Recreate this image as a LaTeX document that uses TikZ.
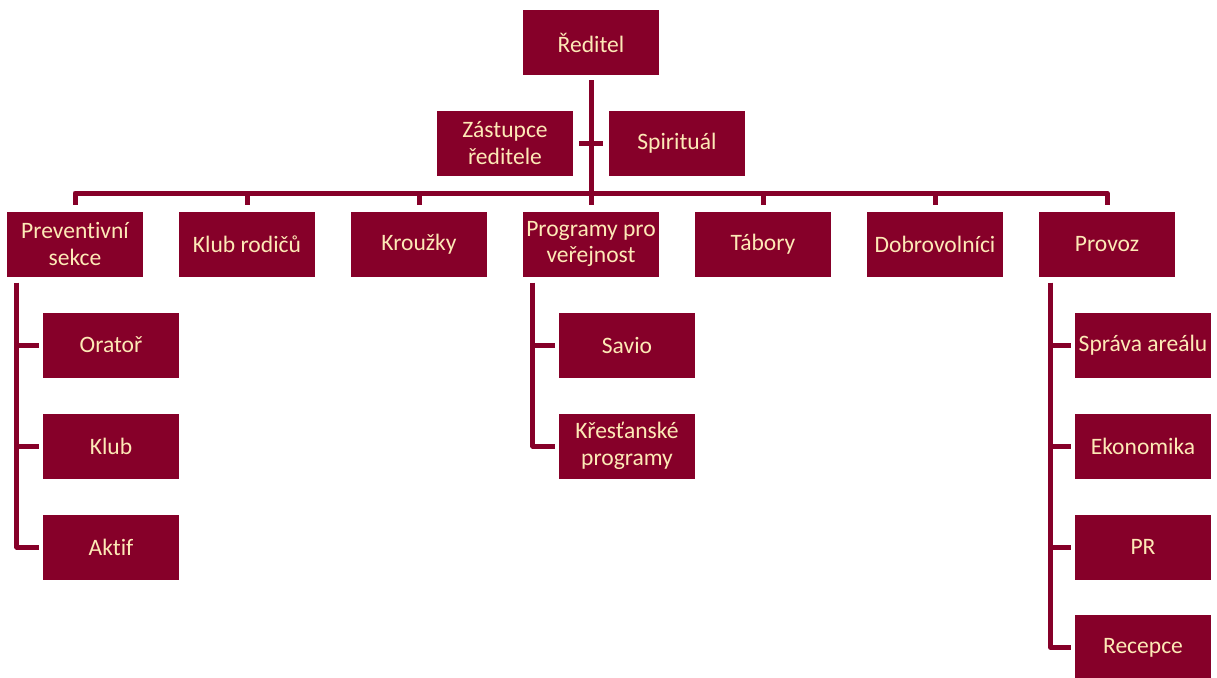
\documentclass[tikz,border=0pt]{standalone}
\usepackage{fontspec}
\setmainfont{Carlito}[Ligatures=NoCommon]
\usetikzlibrary{positioning,calc}

\definecolor{orgred}{HTML}{860029}
\definecolor{orgtext}{HTML}{FDE9B6}
\tikzset{
  unit/.style={fill=orgred, text=orgtext, minimum width=2.72cm, minimum height=1.3cm,
    inner sep=0pt, align=center, font=\fontsize{13.4}{15}\selectfont},
  link/.style={orgred, line width=0.1cm, line join=round}
}

\begin{document}
\begin{tikzpicture}[x=0.02cm, y=-0.02cm]
  \useasboundingbox (0,0) rectangle (1217,677);

  % top
  \node[unit] (reditel) at (591,42.5) {Ředitel};
  \node[unit] (zastupce) at (505,143) {Zástupce\\ředitele};
  \node[unit] (spiritual) at (677,143) {Spirituál};

  % sections
  \node[unit] (prevence) at (75,244) {Preventivní\\sekce};
  \node[unit] (rodice) at (247,244) {Klub rodičů};
  \node[unit] (krouzky) at (419,244) {Kroužky};
  \node[unit] (verejnost) at (591,244) {Programy pro\\veřejnost};
  \node[unit] (tabory) at (763,244) {Tábory};
  \node[unit] (dobrovolnici) at (935,244) {Dobrovolníci};
  \node[unit] (provoz) at (1107,244) {Provoz};

  % sub units
  \node[unit] (orator) at (111,345) {Oratoř};
  \node[unit] (klub) at (111,446) {Klub};
  \node[unit] (aktif) at (111,547) {Aktif};
  \node[unit] (savio) at (627,345) {Savio};
  \node[unit] (krestanske) at (627,446) {Křesťanské\\programy};
  \node[unit] (sprava) at (1143,345) {Správa areálu};
  \node[unit] (ekonomika) at (1143,446) {Ekonomika};
  \node[unit] (pr) at (1143,547) {PR};
  \node[unit] (recepce) at (1143,647.5) {Recepce};

  % connectors
  \coordinate (bar) at (591,193);
  \draw[link] ($(zastupce.east)+(6,0)$) -- ($(spiritual.west)+(-6,0)$);
  \draw[link] ($(reditel.south)+(0,5)$) -- (bar) -| ($(prevence.north)+(0,-6)$);
  \draw[link] (bar) -| ($(rodice.north)+(0,-6)$);
  \draw[link] (bar) -| ($(krouzky.north)+(0,-6)$);
  \draw[link] (bar) -- ($(verejnost.north)+(0,-6)$);
  \draw[link] (bar) -| ($(tabory.north)+(0,-6)$);
  \draw[link] (bar) -| ($(dobrovolnici.north)+(0,-6)$);
  \draw[link] (bar) -| ($(provoz.north)+(0,-6)$);

  \draw[link] ($(prevence.south west)+(10,6)$) |- ($(orator.west)+(-4,0)$);
  \draw[link] ($(prevence.south west)+(10,6)$) |- ($(klub.west)+(-4,0)$);
  \draw[link] ($(prevence.south west)+(10,6)$) |- ($(aktif.west)+(-4,0)$);

  \draw[link] ($(verejnost.south west)+(10,6)$) |- ($(savio.west)+(-4,0)$);
  \draw[link] ($(verejnost.south west)+(10,6)$) |- ($(krestanske.west)+(-4,0)$);

  \draw[link] ($(provoz.south west)+(12,6)$) |- ($(sprava.west)+(-4,0)$);
  \draw[link] ($(provoz.south west)+(12,6)$) |- ($(ekonomika.west)+(-4,0)$);
  \draw[link] ($(provoz.south west)+(12,6)$) |- ($(pr.west)+(-4,0)$);
  \draw[link] ($(provoz.south west)+(12,6)$) |- ($(recepce.west)+(-4,0)$);
\end{tikzpicture}
\end{document}
